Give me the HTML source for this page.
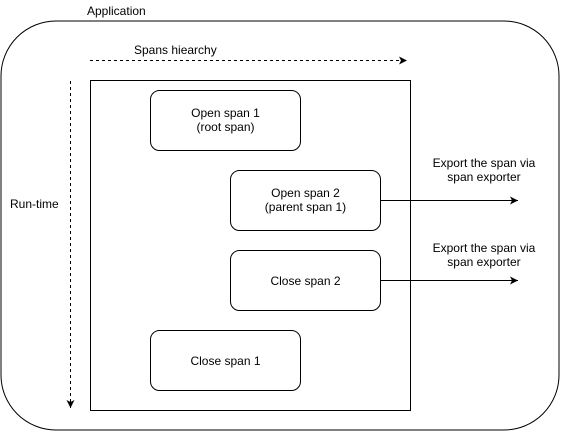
<!DOCTYPE html>
<html><head><meta charset="utf-8"><style>
html,body{margin:0;padding:0;background:#fff;}
svg{display:block;}
text{font-family:"Liberation Sans",sans-serif;font-size:12px;fill:#000;}
</style></head><body>
<svg width="561" height="432" viewBox="0 0 561 432" xmlns="http://www.w3.org/2000/svg">
<defs>
<marker id="a" markerWidth="10" markerHeight="10" refX="8" refY="4" orient="auto" markerUnits="userSpaceOnUse">
<path d="M0,0 L8,4 L0,8 L2,4 Z" fill="#000"/>
</marker>
</defs>
<rect x="1" y="21" width="558" height="409" rx="55" ry="55" fill="#fff" stroke="#000" stroke-width="1"/>
<text x="87" y="15">Application</text>
<text x="134" y="54">Spans hiearchy</text>
<line x1="90" y1="60.5" x2="407" y2="60.5" stroke="#000" stroke-dasharray="3,3" marker-end="url(#a)"/>
<line x1="70.5" y1="81" x2="70.5" y2="408" stroke="#000" stroke-dasharray="3,3" marker-end="url(#a)"/>
<text x="10" y="208">Run-time</text>
<rect x="90.5" y="80.5" width="320" height="330" fill="none" stroke="#000"/>
<rect x="150.5" y="90.5" width="150" height="60" rx="9" fill="#fff" stroke="#000"/>
<text x="225.5" y="117" text-anchor="middle">Open span 1</text>
<text x="225.5" y="131" text-anchor="middle">(root span)</text>
<rect x="230.5" y="170.5" width="150" height="60" rx="9" fill="#fff" stroke="#000"/>
<text x="305.5" y="197" text-anchor="middle">Open span 2</text>
<text x="305.5" y="211" text-anchor="middle">(parent span 1)</text>
<rect x="230.5" y="250.5" width="150" height="60" rx="9" fill="#fff" stroke="#000"/>
<text x="305.5" y="285" text-anchor="middle">Close span 2</text>
<rect x="150.5" y="330.5" width="150" height="60" rx="9" fill="#fff" stroke="#000"/>
<text x="225.5" y="365" text-anchor="middle">Close span 1</text>
<line x1="380.5" y1="200.5" x2="518" y2="200.5" stroke="#000" marker-end="url(#a)"/>
<line x1="380.5" y1="280.5" x2="518" y2="280.5" stroke="#000" marker-end="url(#a)"/>
<text x="484" y="167" text-anchor="middle">Export the span via</text>
<text x="484" y="181" text-anchor="middle">span exporter</text>
<text x="484" y="252" text-anchor="middle">Export the span via</text>
<text x="484" y="266" text-anchor="middle">span exporter</text>
</svg>
</body></html>
